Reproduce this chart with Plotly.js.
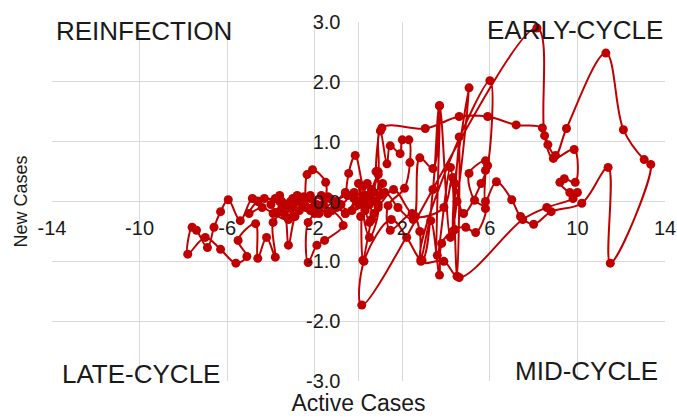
<!DOCTYPE html>
<html>
<head>
<meta charset="utf-8">
<script src="https://cdn.plot.ly/plotly-3.0.1.min.js"></script>
<style>html,body{margin:0;padding:0;background:#fff;}#chart{width:677px;height:420px;}</style>
</head>
<body>
<div id="chart"></div>
<script>
// Active Cases (x) and New Cases (y), in path order (rows of 10)
const activeCases = [
  0.3,-0.2,-0.8,-1.4,-2.0,-2.6,-3.1,-3.6,-4.3,-4.85,
  -5.4,-5.95,-6.3,-6.6,-6.9,-7.4,-7.6,-7.8,-7.0,-6.3,
  -5.6,-5.1,-5.5,-4.7,-4.6,-4.2,-3.8,-3.9,-3.4,-3.2,
  -2.9,-2.5,-2.35,-2.1,-1.5,-1.6,-2.3,-2.3,-1.9,-1.55,
  -0.7,-1.2,-1.9,-2.7,-3.3,-3.7,-3.0,-2.4,-1.7,-1.0,
  -1.5,-2.2,-2.8,-3.4,-4.0,-3.6,-3.0,-2.5,-3.2,-3.9,
  -4.4,-5.0,-4.6,-3.8,-3.1,-2.2,-1.8,-1.1,-0.6,-0.2,
  -0.5,-0.45,-0.15,0.2,0.5,0.1,0.7,0.4,0.9,0.5,
  0.0,0.3,0.6,0.9,0.7,0.4,0.8,1.1,0.5,0.2,
  0.2,0.6,1.0,0.8,1.0,1.3,1.45,1.9,2.0,2.3,
  2.35,2.1,1.35,1.45,2.45,2.8,2.85,3.3,3.7,3.8,
  4.4,4.9,5.35,5.8,5.3,5.05,5.8,5.8,5.8,6.3,
  7.0,7.4,8.0,8.8,10.2,11.4,11.5,13.35,13.05,12.1,
  11.3,9.5,9.0,8.65,8.4,7.2,5.9,4.6,3.05,1.07,
  0.9,0.5,-0.3,-1.0,-0.3,0.3,1.2,1.8,2.5,2.8,
  3.4,3.7,3.6,4.2,4.5,4.6,4.3,4.4,5.05,4.5,
  4.2,3.7,3.4,2.9,2.2,1.5,0.25,0.15,8.15,8.5,
  8.9,9.85,9.9,9.4,9.2,9.65,10.0,9.8,8.6,7.5,
  4.6,3.9,2.85,6.0,5.9,5.6,4.8,4.3,3.9,2.6,
  1.6,0.9,0.2,-0.6,-1.3,-2.0,-2.8,-3.5,-3.0,-2.2,
  -1.4,-0.6,0.0,0.6,0.3,-0.2
];
const newCases = [
  0.0,0.15,-0.05,0.08,-0.1,0.02,-0.12,0.0,0.05,0.05,
  -0.32,0.03,-0.17,-0.43,-0.77,-0.48,-0.43,-0.88,-0.6,-0.8,
  -1.03,-0.92,-0.65,-0.37,-0.95,-0.6,-0.93,-0.35,-0.2,-0.73,
  -0.25,-0.05,0.45,0.53,0.32,-0.05,-0.35,-1.02,-0.73,-0.65,
  -0.4,-0.15,-0.05,-0.15,-0.05,-0.18,0.05,-0.1,0.1,-0.1,
  0.05,-0.15,0.0,-0.2,-0.05,0.1,-0.1,0.08,-0.3,-0.2,
  -0.1,-0.2,0.0,0.05,0.0,0.1,-0.2,0.0,-0.2,0.05,
  0.1,0.47,0.77,0.25,-0.05,-0.25,0.15,0.3,-0.1,-0.6,
  0.3,-0.1,0.2,0.45,-0.2,0.1,0.0,0.3,-0.35,0.05,
  -0.98,-0.3,0.1,0.5,1.18,0.63,0.93,0.8,1.03,1.03,
  0.65,0.22,-0.07,-0.48,-0.2,-0.5,-0.97,-0.32,-1.23,-0.7,
  -0.47,-0.43,-0.52,-0.12,0.02,0.47,0.68,0.52,0.0,0.33,
  0.03,-0.25,-0.38,-0.17,-0.03,0.57,-1.03,0.62,0.7,1.2,
  2.48,1.22,0.77,0.95,1.23,1.28,1.42,1.42,1.22,1.23,
  0.5,0.05,-0.15,0.0,0.1,-0.15,0.15,-0.1,-0.3,0.73,
  0.55,1.6,-0.9,0.57,-1.25,1.08,-0.5,0.3,1.9,0.0,
  -0.6,1.6,0.2,-0.98,-0.6,-0.3,-1.0,-1.73,2.9,1.1,
  0.72,0.87,0.32,0.38,0.32,0.15,0.15,0.05,-0.1,-0.3,
  -1.27,-1.0,-1.0,2.02,0.6,0.3,-0.2,0.4,-0.1,-0.25,
  0.2,-0.05,0.1,-0.2,0.05,-0.2,0.1,-0.1,-0.25,0.05,
  -0.2,0.15,-0.05,0.2,-0.1,0.05
];
const xTickVals = [-14,-10,-6,-2,2,6,10,14];
const xTickText = ['-14','-10','-6','-2','2','6','10','14'];
const yTickVals = [-3,-2,-1,0,1,2,3];
const yTickText = ['-3.0','-2.0','-1.0','0.0','1.0','2.0','3.0'];
const quadrantLabels = ['REINFECTION','EARLY-CYCLE','LATE-CYCLE','MID-CYCLE'];

const red = '#C00000';
const fam = 'Liberation Sans, Arial, sans-serif';
const ink = '#1a1a1a';

const trace = {
  x: activeCases, y: newCases,
  type: 'scatter', mode: 'lines+markers',
  line: {color: red, width: 2, shape: 'spline', smoothing: 1},
  marker: {color: red, size: 9},
  hoverinfo: 'x+y', showlegend: false
};

function quad(i, x, y, xa) {
  return {text: quadrantLabels[i], xref: 'paper', yref: 'paper', x: x, y: y,
    xanchor: xa, yanchor: 'middle', showarrow: false,
    font: {family: fam, size: 26, color: ink}};
}

const layout = {
  width: 677, height: 420,
  margin: {l: 52, r: 12, t: 22, b: 39, pad: 0},
  paper_bgcolor: '#fff', plot_bgcolor: '#fff',
  font: {family: fam, color: ink},
  xaxis: {
    range: [-14, 14], tickmode: 'array', tickvals: xTickVals, ticktext: xTickText,
    showgrid: true, gridcolor: '#d9d9d9', gridwidth: 1,
    zeroline: true, zerolinecolor: '#d9d9d9', zerolinewidth: 1,
    showline: false, ticks: '', anchor: 'free', position: 0.5,
    ticklabelstandoff: 12,
    tickfont: {family: fam, size: 20, color: ink},
    title: {text: 'Active Cases', font: {family: fam, size: 23, color: ink}, standoff: 157},
    fixedrange: true
  },
  yaxis: {
    range: [-3, 3], tickmode: 'array', tickvals: yTickVals, ticktext: yTickText,
    showgrid: true, gridcolor: '#d9d9d9', gridwidth: 1,
    zeroline: true, zerolinecolor: '#d9d9d9', zerolinewidth: 1,
    showline: false, ticks: '', anchor: 'free', position: 0.5,
    ticklabelstandoff: 18,
    tickfont: {family: fam, size: 20, color: ink},
    title: {text: 'New Cases', font: {family: fam, size: 18, color: ink}, standoff: 272},
    fixedrange: true
  },
  annotations: [
    quad(0, 0.003, 0.975, 'left'),
    quad(1, 1.0, 0.978, 'right'),
    quad(2, 0.013, 0.02, 'left'),
    quad(3, 0.992, 0.028, 'right')
  ]
};

Plotly.newPlot('chart', [trace], layout, {displayModeBar: false, staticPlot: true});
</script>
</body>
</html>
